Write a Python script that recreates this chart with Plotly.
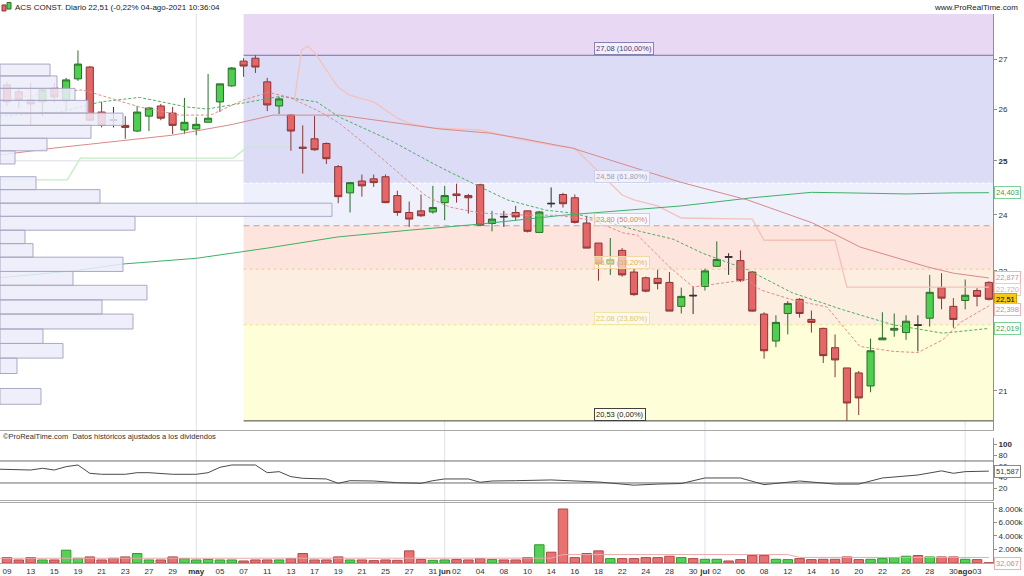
import math
import plotly.graph_objects as go

# ---------------- data ----------------
apr = ["09", "12", "13", "14", "15", "16", "19", "20", "21", "22", "23", "26", "27", "28", "29", "30"]
may = ["03", "04", "05", "06", "07", "10", "11", "12", "13", "14", "17", "18", "19", "20", "21",
       "24", "25", "26", "27", "28", "31"]
jun = ["01", "02", "03", "04", "07", "08", "09", "10", "11", "14", "15", "16", "17", "18", "21",
       "22", "23", "24", "25", "28", "29", "30"]
jul = ["01", "02", "05", "06", "07", "08", "09", "12", "13", "14", "15", "16", "19", "20", "21",
       "22", "23", "26", "27", "28", "29", "30"]
aug = ["02", "03", "04"]
dates = ([f"2021-04-{d}" for d in apr] + [f"2021-05-{d}" for d in may] +
         [f"2021-06-{d}" for d in jun] + [f"2021-07-{d}" for d in jul] +
         [f"2021-08-{d}" for d in aug])

opens = [26.48, 26.34, 26.18, 26.14, 26.42, 26.16, 26.60, 26.84, 25.94, 25.79, 25.68, 25.57, 25.86, 26.06,
         25.92, 25.59, 25.61, 25.74, 26.14, 26.46, 26.96, 27.02, 26.54, 26.06, 25.88, 25.26, 25.42, 25.33,
         24.89, 24.40, 24.62, 24.66, 24.70, 24.35, 24.04, 24.07, 24.05, 24.22, 24.38, 24.35, 24.55, 23.84,
         23.97, 24.04, 24.07, 23.68, 24.21, 24.37, 24.31, 23.85, 23.49, 23.13, 23.36, 22.98, 22.88, 22.87,
         22.80, 22.39, 22.58, 22.73, 23.08, 23.25, 23.18, 22.98, 22.26, 21.81, 22.27, 22.51, 22.17, 22.02,
         21.70, 21.37, 21.29, 21.08, 21.83, 21.99, 21.95, 22.08, 22.19, 22.71, 22.39, 22.49, 22.66, 22.80]
highs = [26.54, 26.42, 26.52, 26.40, 26.52, 26.62, 27.18, 26.86, 26.14, 26.04, 25.86, 26.06, 26.04, 26.10,
         26.04, 26.22, 25.84, 26.70, 26.50, 26.84, 27.02, 27.08, 26.62, 26.24, 25.90, 25.68, 25.86, 25.35,
         24.92, 24.59, 24.74, 24.74, 24.74, 24.44, 24.24, 24.37, 24.53, 24.53, 24.57, 24.38, 24.57, 24.07,
         24.07, 24.16, 24.07, 24.07, 24.50, 24.40, 24.37, 23.98, 23.49, 23.58, 23.40, 23.05, 22.90, 23.02,
         22.98, 22.71, 22.73, 23.04, 23.52, 23.31, 23.36, 23.00, 22.29, 22.24, 22.48, 22.53, 22.32, 22.03,
         21.92, 21.37, 21.32, 21.85, 22.29, 22.27, 22.24, 22.24, 22.93, 22.96, 22.53, 22.85, 22.70, 22.82]
lows = [26.06, 26.02, 25.68, 25.86, 26.12, 25.98, 26.56, 25.76, 25.64, 25.64, 25.42, 25.55, 25.57, 25.78,
        25.51, 25.51, 25.49, 25.74, 25.94, 26.44, 26.64, 26.72, 25.96, 25.90, 25.19, 24.76, 25.19, 24.94,
        24.21, 24.04, 24.33, 24.51, 24.21, 23.98, 23.78, 23.96, 24.02, 23.90, 24.22, 24.02, 23.79, 23.70,
        23.78, 23.90, 23.68, 23.68, 24.13, 24.13, 23.84, 23.40, 22.83, 22.93, 22.90, 22.57, 22.63, 22.68,
        22.31, 22.27, 22.26, 22.66, 23.07, 22.93, 22.81, 22.30, 21.52, 21.71, 21.92, 22.20, 21.95, 21.45,
        21.22, 20.53, 20.62, 20.98, 21.83, 21.88, 21.83, 21.64, 22.05, 22.34, 22.03, 22.34, 22.39, 22.49]
closes = [26.14, 26.18, 26.10, 26.38, 26.24, 26.58, 26.90, 25.78, 25.68, 25.78, 25.64, 25.94, 26.02, 25.82,
          25.68, 25.74, 25.70, 25.82, 26.50, 26.82, 26.86, 26.84, 26.08, 26.20, 25.57, 25.24, 25.21, 25.04,
          24.33, 24.59, 24.53, 24.59, 24.22, 24.04, 23.92, 23.98, 24.13, 24.35, 24.35, 24.31, 23.81, 23.92,
          23.96, 23.96, 23.70, 24.05, 24.20, 24.20, 23.86, 23.40, 23.13, 23.20, 22.93, 22.59, 22.65, 22.78,
          22.31, 22.56, 22.57, 23.00, 23.20, 23.24, 22.83, 22.31, 21.65, 22.12, 22.44, 22.27, 22.12, 21.57,
          21.50, 20.81, 20.89, 21.65, 21.86, 22.02, 22.14, 22.07, 22.63, 22.53, 22.17, 22.58, 22.56, 22.51]
# volume in thousands of shares
volumes_k = [800, 450, 800, 450, 450, 1900, 700, 900, 450, 700, 900, 1400, 450, 450, 900, 650, 450, 550,
             450, 450, 300, 450, 450, 450, 650, 1400, 450, 450, 900, 450, 450, 350, 450, 400, 1800, 500,
             400, 450, 500, 450, 650, 500, 450, 450, 800, 2700, 1600, 8000, 800, 1400, 1800, 650, 650, 650,
             800, 800, 1000, 800, 650, 550, 550, 300, 500, 1100, 1100, 550, 500, 650, 500, 550, 550, 900,
             500, 550, 650, 800, 1000, 1100, 900, 900, 900, 550, 500, 32.067]

# moving averages / indicators: (trading-day index, value)
sma_slow_x = [-0.6, 5.6, 9.8, 16, 22, 28, 34, 40, 47, 53, 57, 63, 68, 71, 76, 80, 83]
sma_slow_y = [22.88, 23.00, 23.12, 23.22, 23.40, 23.60, 23.72, 23.83, 23.99, 24.10, 24.16, 24.31, 24.41,
              24.40, 24.38, 24.40, 24.403]
sma_mid_x = [-0.6, 3.9, 14, 19.1, 22.5, 28.1, 36.6, 40.8, 43.4, 47.8, 56.9, 62.6, 68.1, 72.1, 77.8, 80, 83]
sma_mid_y = [25.11, 25.24, 25.49, 25.70, 25.88, 25.88, 25.61, 25.53, 25.43, 25.24, 24.60, 24.27, 23.85,
             23.42, 23.07, 22.96, 22.877]
ema_slow_x = [-0.6, 4.5, 7.9, 11.2, 15.2, 16.9, 20, 23.1, 26.2, 28.1, 32.4, 36.6, 40, 42.3, 45.6, 47.8,
              50.7, 53.5, 56.3, 58.8, 62.6, 66.4, 70.7, 74.9, 79.1, 83]
ema_slow_y = [25.86, 25.94, 26.14, 26.23, 26.04, 26.00, 26.12, 26.25, 26.14, 25.84, 25.39, 24.88, 24.51,
              24.27, 24.08, 24.03, 23.87, 23.70, 23.56, 23.31, 23.02, 22.62, 22.33, 22.08, 21.94, 22.019]
ema_fast_x = [-0.6, 3.9, 6.4, 8.7, 11.2, 14.6, 17.2, 20, 22.1, 23.9, 26.5, 28.1, 30.9, 33.8, 35.5, 37.4,
              40, 44, 46.5, 49.5, 52.1, 53.3, 56, 58, 60.9, 62.6, 63.7, 66.4, 69.3, 72.1, 74.9, 77, 79.1,
              80.6, 83]
ema_fast_y = [26.18, 26.33, 26.38, 26.21, 26.04, 25.88, 25.88, 26.18, 26.33, 26.23, 25.94, 25.72, 25.20,
              24.64, 24.33, 24.14, 24.03, 23.99, 23.99, 23.90, 23.67, 23.63, 23.07, 22.72, 22.80, 22.85,
              22.67, 22.50, 22.38, 21.72, 21.64, 21.62, 21.83, 22.12, 22.398]
st_up_x = [-0.6, 5.1, 6.2, 19.1, 20.3, 23.9]
st_up_y = [24.64, 24.64, 25.05, 25.05, 25.26, 25.26]
st_dn_x = [24.3, 24.9, 25.4, 26, 27, 28, 29, 31, 33, 34, 36, 40, 43, 46, 48, 50, 52, 53, 55, 57, 63, 64,
           70, 71, 83]
st_dn_y = [26.18, 27.18, 27.27, 27.14, 26.78, 26.43, 26.27, 26.14, 25.82, 25.72, 25.63, 25.59, 25.43,
           25.30, 25.24, 24.79, 24.36, 24.27, 24.16, 23.94, 23.92, 23.54, 23.54, 22.72, 22.72]
rsi_x = [-0.6, 2, 3, 4, 5, 6, 7, 8, 10, 11, 12, 14, 16, 17, 18, 19, 21, 22, 23, 24, 25, 27, 28, 29, 31,
         33, 35, 36, 37, 39, 40, 41, 43, 46, 50, 53, 55, 57, 59, 62, 64, 67, 70, 72, 74, 77, 79, 80, 81,
         82, 83]
rsi_y = [55, 53.6, 56.7, 53.6, 59.7, 62.7, 47.6, 45.8, 45.8, 48.7, 48.7, 45.8, 45.8, 48.7, 58.5, 62.7,
         62.7, 48.7, 50.6, 41.5, 38.5, 37.3, 29.4, 34.2, 33.6, 30.5, 29.4, 34.2, 37.3, 37.3, 31.3, 33.6,
         34.2, 35.5, 31.8, 26.0, 28.0, 29.0, 39.1, 39.1, 27.0, 33.6, 28.0, 28.0, 39.1, 44.5, 52.0, 47.6,
         50.6, 51.6, 51.587]
vol_ma_x = [-0.6, 46, 47, 66, 67, 83]
vol_ma_k = [700, 720, 1250, 1250, 830, 820]

# volume-at-price profile (left side): bin edges (top -> bottom) and relative volume
profile_edges = [26.90, 26.66, 26.41, 26.17, 25.92, 25.68, 25.43, 25.19, 24.94, 24.70, 24.46, 24.21, 23.97,
                 23.72, 23.48, 23.24, 22.99, 22.75, 22.50, 22.26, 22.01, 21.77, 21.53, 21.28, 21.04, 20.79]
profile_vol = [50, 57, 75, 88, 123, 91, 47, 15, 0, 36, 100, 332, 135, 25, 33, 123, 73, 147, 102, 133, 43,
               63, 17, 0, 41]

# Fibonacci retracement
fib_start = "2021-05-07"
fib_levels = [27.08, 24.58, 23.80, 23.03, 22.08, 20.53]
fib_pcts = ["100,00%", "61,80%", "50,00%", "38,20%", "23,60%", "0,00%"]

tick_dates = ["2021-04-09", "2021-04-13", "2021-04-15", "2021-04-19", "2021-04-21", "2021-04-23",
              "2021-04-27", "2021-04-29", "2021-05-03", "2021-05-05", "2021-05-07", "2021-05-11",
              "2021-05-13", "2021-05-17", "2021-05-19", "2021-05-21", "2021-05-25", "2021-05-27",
              "2021-05-31", "2021-06-01", "2021-06-02", "2021-06-04", "2021-06-08", "2021-06-10",
              "2021-06-14", "2021-06-16", "2021-06-18", "2021-06-22", "2021-06-24", "2021-06-28",
              "2021-06-30", "2021-07-01", "2021-07-02", "2021-07-06", "2021-07-08", "2021-07-12",
              "2021-07-14", "2021-07-16", "2021-07-20", "2021-07-22", "2021-07-26", "2021-07-28",
              "2021-07-30", "2021-08-02", "2021-08-03"]
tick_text = ["09", "13", "15", "19", "21", "23", "27", "29", "<b>may</b>", "05", "07", "11", "13", "17",
             "19", "21", "25", "27", "31", "<b>jun</b>", "02", "04", "08", "10", "14", "16", "18", "22",
             "24", "28", "30", "<b>jul</b>", "02", "06", "08", "12", "14", "16", "20", "22", "26", "28",
             "30", "<b>ago</b>", "03"]
month_starts = ["2021-05-03", "2021-06-01", "2021-07-01", "2021-08-02"]

price_ticks = [21, 22, 23, 24, 25, 26, 27]
price_tick_text = ["21", "22", "23", "24", "<b>25</b>", "26", "27"]
rsi_ticks = [20, 40, 60, 80, 100]
rsi_tick_text = ["20", "40", "60", "80", "<b>100</b>"]
rsi_levels = [70, 30]
vol_ticks_k = [2000, 4000, 6000, 8000]
vol_tick_text = ["2.000k", "4.000k", "6.000k", "8.000k"]
grid_levels = [25]

# ---------------- layout constants ----------------
FONT = "Liberation Sans, Arial, sans-serif"
n = len(dates)
xi = list(range(n))
x_range = [-0.59, 83.35]
price_range = [20.389, 27.94]
price_dom = [0.2423, 1.0]
rsi_dom = [0.1148, 0.2277]
vol_dom = [0.0, 0.1093]


def es(v, d):
    return f"{v:.{d}f}".replace(".", ",")


fig = go.Figure()

# ---------------- shapes: fib bands, lines, grids ----------------
shapes = []
band_colors = ["#e9d8f3", "#dcdcf7", "#eef0fc", "#fde4dc", "#fdeee2", "#fefed8"]
band_tops = [price_range[1]] + fib_levels[:-1]
fx0 = dates.index(fib_start)
for lo, hi, col in zip(fib_levels, band_tops, band_colors):
    shapes.append(dict(type="rect", xref="x", yref="y", x0=fx0, x1=x_range[1], y0=lo, y1=hi,
                       fillcolor=col, line=dict(width=0), layer="below"))
fib_line_styles = [("#6e6eae", "solid"), ("#ffffff", "dot"), ("#c4a096", "6px,4px"),
                   ("#f2c88e", "dot"), ("#eedf84", "dot"), ("#404040", "solid")]
for lv, (col, dash) in zip(fib_levels, fib_line_styles):
    shapes.append(dict(type="line", xref="x", yref="y", x0=fx0, x1=x_range[1], y0=lv, y1=lv,
                       line=dict(color=col, width=1, dash=dash), layer="below"))
for g in grid_levels:
    shapes.append(dict(type="line", xref="paper", yref="y", x0=0, x1=1, y0=g, y1=g,
                       line=dict(color="#dcdce6", width=1), layer="below"))
for m in month_starts:
    k = dates.index(m)
    shapes.append(dict(type="line", xref="x", yref="paper", x0=k, x1=k, y0=0, y1=1,
                       line=dict(color="#e0e0e8", width=1), layer="below"))
for r in rsi_levels:
    shapes.append(dict(type="line", xref="paper", yref="y2", x0=0, x1=1, y0=r, y1=r,
                       line=dict(color="#6a6a6a", width=1), layer="below"))
# small candle icon in the header
shapes.append(dict(type="rect", xref="paper", yref="paper", x0=2 / 993, x1=6 / 993, y0=1.0055, y1=1.0165,
                   fillcolor="#e46666", line=dict(color="#8a3636", width=1)))
shapes.append(dict(type="rect", xref="paper", yref="paper", x0=7 / 993, x1=11 / 993, y0=1.009, y1=1.021,
                   fillcolor="#4fcf4f", line=dict(color="#2b6e2b", width=1)))

# ---------------- volume profile ----------------
px, py = [], []
for i, w in enumerate(profile_vol):
    if w <= 0:
        continue
    hi, lo = profile_edges[i], profile_edges[i + 1]
    px += [0, w, w, 0, 0, None]
    py += [lo, lo, hi, hi, lo, None]
fig.add_trace(go.Scatter(x=px, y=py, mode="lines", fill="toself", fillcolor="rgba(236,236,250,0.85)",
                         line=dict(color="#a9a9c2", width=1), xaxis="x4", yaxis="y",
                         hoverinfo="skip", showlegend=False))

# ---------------- indicator lines ----------------
fig.add_trace(go.Scatter(x=st_up_x, y=st_up_y, mode="lines", line=dict(color="#c4ecc4", width=1.3),
                         hoverinfo="skip", showlegend=False))
fig.add_trace(go.Scatter(x=st_dn_x, y=st_dn_y, mode="lines", line=dict(color="#f3c2ba", width=1.3),
                         hoverinfo="skip", showlegend=False))
fig.add_trace(go.Scatter(x=sma_slow_x, y=sma_slow_y, mode="lines", line=dict(color="#3fb068", width=1),
                         hoverinfo="skip", showlegend=False))
fig.add_trace(go.Scatter(x=sma_mid_x, y=sma_mid_y, mode="lines", line=dict(color="#d88a8a", width=1),
                         hoverinfo="skip", showlegend=False))
fig.add_trace(go.Scatter(x=ema_slow_x, y=ema_slow_y, mode="lines",
                         line=dict(color="#4fae62", width=1, dash="3px,2px"),
                         hoverinfo="skip", showlegend=False))
fig.add_trace(go.Scatter(x=ema_fast_x, y=ema_fast_y, mode="lines",
                         line=dict(color="#df8c8c", width=1, dash="3px,2px"),
                         hoverinfo="skip", showlegend=False))

# ---------------- candles (dojis drawn as dark crosses) ----------------
is_doji = [abs(o - c) <= 0.02 for o, c in zip(opens, closes)]


def pick(seq, flag):
    return [v for v, d in zip(seq, is_doji) if d == flag]


fig.add_trace(go.Candlestick(
    x=pick(xi, False), open=pick(opens, False), high=pick(highs, False), low=pick(lows, False),
    close=pick(closes, False),
    increasing=dict(fillcolor="#4fcf4f", line=dict(color="#2b6e2b", width=1)),
    decreasing=dict(fillcolor="#e46666", line=dict(color="#8a3636", width=1)),
    whiskerwidth=0, hoverinfo="skip", showlegend=False, xaxis="x", yaxis="y"))
fig.add_trace(go.Candlestick(
    x=pick(xi, True), open=pick(opens, True), high=pick(highs, True), low=pick(lows, True),
    close=pick(closes, True),
    increasing=dict(fillcolor="#303030", line=dict(color="#303030", width=1)),
    decreasing=dict(fillcolor="#303030", line=dict(color="#303030", width=1)),
    whiskerwidth=0, hoverinfo="skip", showlegend=False, xaxis="x", yaxis="y"))

# ---------------- RSI ----------------
fig.add_trace(go.Scatter(x=rsi_x, y=rsi_y, mode="lines", line=dict(color="#4a4a4a", width=1),
                         xaxis="x2", yaxis="y2", hoverinfo="skip", showlegend=False))

# ---------------- volume ----------------
vol_fill = ["#56d056" if c > o else "#e87272" for o, c in zip(opens, closes)]
vol_line = ["#2f9a2f" if c > o else "#b04848" for o, c in zip(opens, closes)]
fig.add_trace(go.Bar(x=xi, y=[v * 1000 for v in volumes_k], marker=dict(color=vol_fill,
                     line=dict(color=vol_line, width=1)), xaxis="x3", yaxis="y3",
                     hoverinfo="skip", showlegend=False))
fig.add_trace(go.Scatter(x=vol_ma_x, y=[v * 1000 for v in vol_ma_k], mode="lines",
                         line=dict(color="#e9a9a9", width=1), xaxis="x3", yaxis="y3",
                         hoverinfo="skip", showlegend=False))

# ---------------- annotations ----------------
ann = []
fib_text_styles = [("#40407a", "#8484b4"), ("#9aa0bc", "#cfd2e6"), ("#d08a55", "#f0c6a2"),
                   ("#e0b050", "#f2d9a4"), ("#dccb5e", "#efe6a6"), ("#202020", "#404040")]
for lv, pc, (tc, bc) in zip(fib_levels, fib_pcts, fib_text_styles):
    ann.append(dict(xref="paper", yref="y", x=594 / 993, y=math.log10(lv), xanchor="left",
                    yanchor="bottom", text=f"{es(lv, 2)} ({pc})", showarrow=False,
                    font=dict(family=FONT, size=7.5, color=tc), bgcolor="rgba(255,255,255,0.6)",
                    bordercolor=bc, borderwidth=1, borderpad=1))

right_labels = [
    (sma_slow_y[-1], 3, "#33a35a", "#7fcf9a", "white", 0),
    (sma_mid_y[-1], 3, "#d08a8a", "#e8b4b4", "white", 0),
    (st_dn_y[-1], 3, "#e0aaaa", "#f0c8c8", "white", -2),
    (closes[-1], 2, "#000000", "#c9a000", "#f4c81c", 0),
    (ema_fast_y[-1], 3, "#d08a8a", "#e8b4b4", "white", -4),
    (ema_slow_y[-1], 3, "#33a35a", "#7fcf9a", "white", 0),
]
for v, d, tc, bc, bg, ys in right_labels:
    ann.append(dict(xref="paper", yref="y", x=1, y=math.log10(v), xanchor="left", yanchor="middle",
                    xshift=1, yshift=ys, text=es(v, d), showarrow=False,
                    font=dict(family=FONT, size=7.5, color=tc), bgcolor=bg, bordercolor=bc,
                    borderwidth=1, borderpad=1))
ann.append(dict(xref="paper", yref="y2", x=1, y=rsi_y[-1], xanchor="left", yanchor="middle", xshift=1,
                text=es(rsi_y[-1], 3), showarrow=False, font=dict(family=FONT, size=7.5, color="#404040"),
                bgcolor="white", bordercolor="#8a8a8a", borderwidth=1, borderpad=1))
ann.append(dict(xref="paper", yref="y3", x=1, y=vol_ma_k[-1] * 1000, xanchor="left", yanchor="middle",
                xshift=1, yshift=-6, text=es(volumes_k[-1], 3), showarrow=False,
                font=dict(family=FONT, size=7.5, color="#d08a8a"), bgcolor="white",
                bordercolor="#e8b4b4", borderwidth=1, borderpad=1))

pct = (closes[-1] / closes[-2] - 1) * 100
header = f"ACS CONST. Diario {es(closes[-1], 2)} ({es(pct, 2)}% 04-ago-2021 10:36:04"
ann.append(dict(xref="paper", yref="paper", x=0, y=1, xanchor="left", yanchor="bottom", xshift=13,
                text=header, showarrow=False, font=dict(family=FONT, size=8, color="#202020")))
ann.append(dict(xref="paper", yref="paper", x=1, y=1, xanchor="right", yanchor="bottom", xshift=27,
                text="www.ProRealTime.com", showarrow=False, font=dict(family=FONT, size=8, color="#202020")))
ann.append(dict(xref="paper", yref="paper", x=0, y=price_dom[0], xanchor="left", yanchor="top", xshift=1,
                text="©ProRealTime.com  Datos históricos ajustados a los dividendos", showarrow=False,
                font=dict(family=FONT, size=7.5, color="#303030")))

axis_font = dict(family=FONT, size=8, color="#303030")
tick_idx = [dates.index(d) for d in tick_dates]

fig.update_layout(
    width=1024, height=576,
    margin=dict(l=0, r=31, t=14, b=13),
    paper_bgcolor="white", plot_bgcolor="white",
    showlegend=False, boxgap=0.14, bargap=0.2,
    shapes=shapes, annotations=ann,
    xaxis=dict(domain=[0, 1], anchor="y", range=x_range, showticklabels=False, showgrid=False,
               zeroline=False, showline=True, linecolor="#a8a8a8", rangeslider=dict(visible=False),
               fixedrange=True),
    xaxis2=dict(domain=[0, 1], anchor="y2", matches="x", showticklabels=False, showgrid=False,
                zeroline=False, showline=True, linecolor="#a8a8a8"),
    xaxis3=dict(domain=[0, 1], anchor="y3", matches="x", tickmode="array", tickvals=tick_idx,
                ticktext=tick_text, tickfont=axis_font, tickangle=0, ticks="", ticklen=0,
                showgrid=False, zeroline=False, showline=True, mirror=True, linecolor="#a8a8a8"),
    xaxis4=dict(overlaying="x", anchor="y", range=[0, 993], visible=False),
    yaxis=dict(domain=price_dom, type="log", range=[math.log10(price_range[0]), math.log10(price_range[1])],
               side="right", tickmode="array", tickvals=price_ticks, ticktext=price_tick_text,
               tickfont=axis_font, ticks="outside", ticklen=3, tickcolor="#909090", showgrid=False,
               zeroline=False, showline=True, linecolor="#909090"),
    yaxis2=dict(domain=rsi_dom, range=[-0.9, 111.8], side="right", tickmode="array", tickvals=rsi_ticks,
                ticktext=rsi_tick_text, tickfont=axis_font, ticks="outside", ticklen=3,
                tickcolor="#909090", showgrid=False, zeroline=False, showline=True, linecolor="#909090"),
    yaxis3=dict(domain=vol_dom, range=[0, 8889e3], side="right", tickmode="array",
                tickvals=[v * 1000 for v in vol_ticks_k], ticktext=vol_tick_text, tickfont=axis_font,
                ticks="outside", ticklen=3, tickcolor="#909090", showgrid=False, zeroline=False,
                showline=True, linecolor="#909090"),
)

fig.write_html("out.html", config={"displayModeBar": False},
               post_script="document.body.style.margin='0px';")
